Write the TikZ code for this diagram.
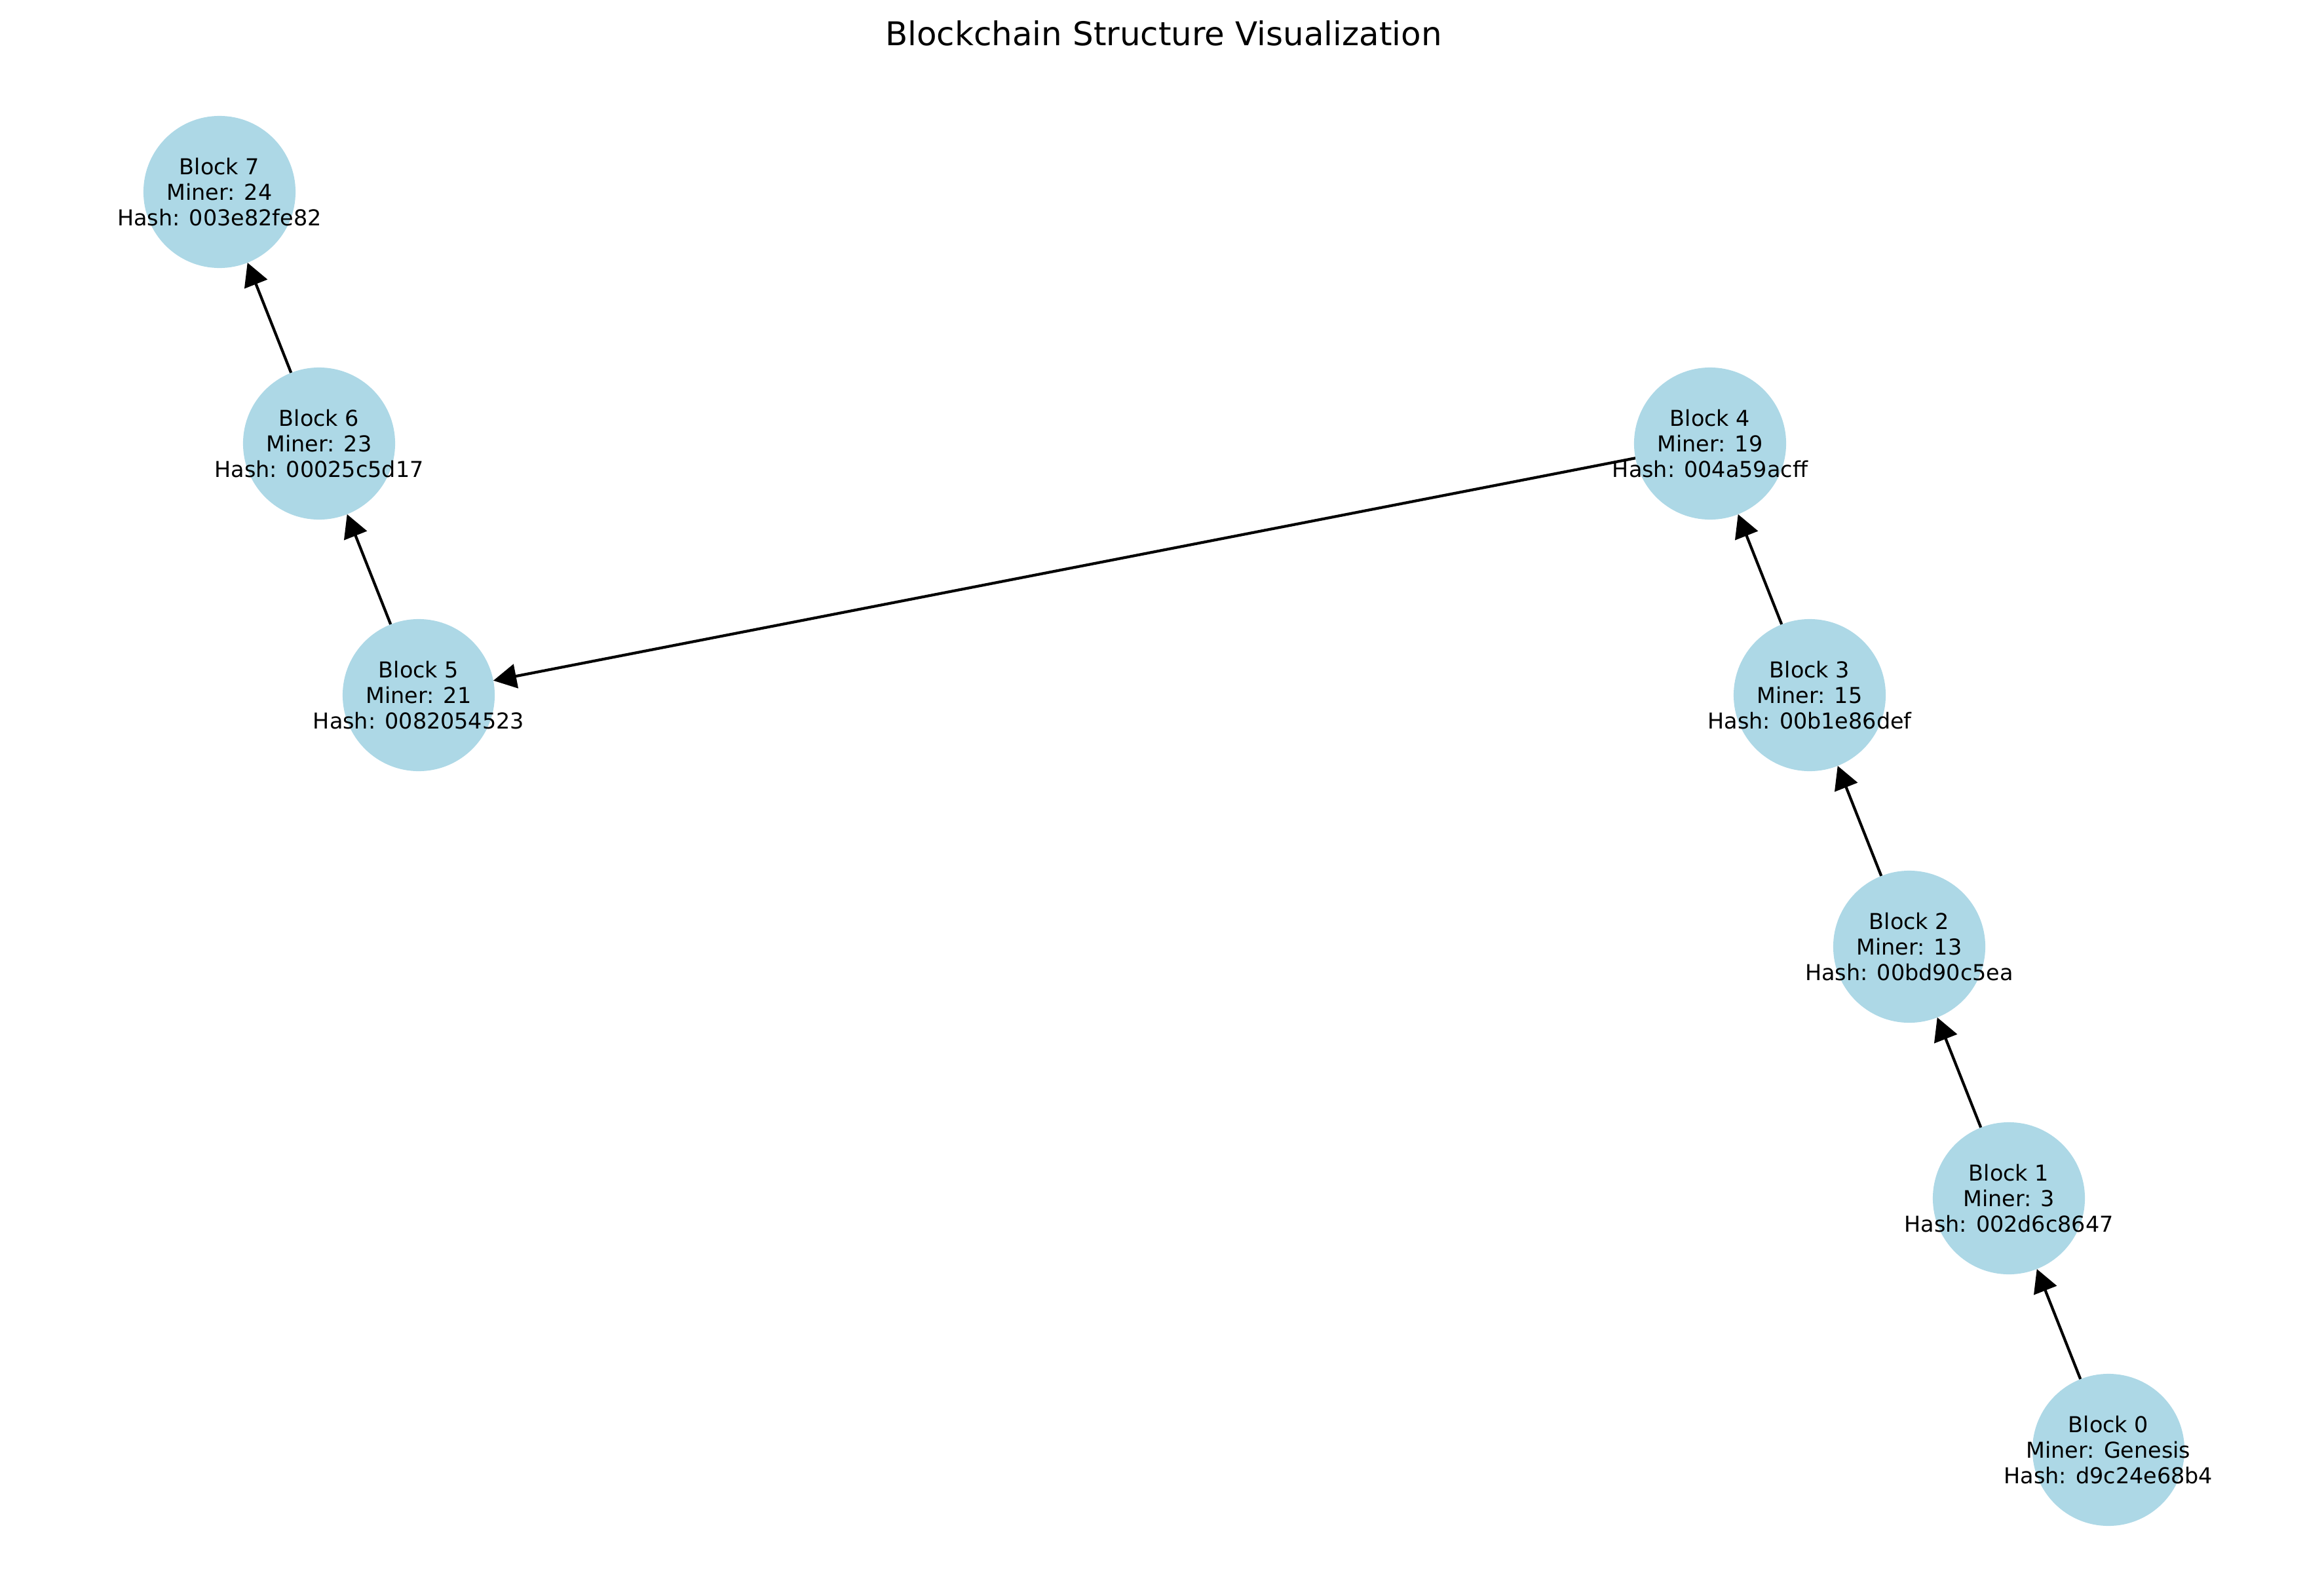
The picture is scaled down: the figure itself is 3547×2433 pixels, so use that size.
\documentclass[tikz,border=0pt]{standalone}
\usepackage{fontspec}
\setmainfont{DejaVu Sans}
\usetikzlibrary{arrows.meta,backgrounds}
\definecolor{blockblue}{RGB}{173,216,230}
\tikzset{
  block/.style={circle,fill=blockblue,minimum size=2.32cm,inner sep=0pt,outer sep=0pt},
  blocktext/.style={align=center,inner sep=0pt,font=\fontsize{9.5}{11.2}\selectfont},
  link/.style={-{Triangle[length=10pt,width=10.5pt]},line width=1.2pt,black}
}

\begin{document}
\begin{tikzpicture}[x=0.01cm,y=-0.01cm]
  \useasboundingbox (0,0) rectangle (3547,2433);
  \node[anchor=base,font=\fontsize{14.2}{17}\selectfont] (title) at (1776,70) {Blockchain Structure Visualization};

  % the chain, genesis at the bottom right
  \node[block] (b0) at (3218,2213) {};
  \node[block] (b1) at (3066,1829) {};
  \node[block] (b2) at (2914,1445) {};
  \node[block] (b3) at (2762,1061) {};
  \node[block] (b4) at (2610,677) {};
  \node[block] (b5) at (639,1061) {};
  \node[block] (b6) at (487,677) {};
  \node[block] (b7) at (335,293) {};

  \node[blocktext] (t0) at (b0) {Block 0\\Miner: Genesis\\Hash: d9c24e68b4};
  \node[blocktext] (t1) at (b1) {Block 1\\Miner: 3\\Hash: 002d6c8647};
  \node[blocktext] (t2) at (b2) {Block 2\\Miner: 13\\Hash: 00bd90c5ea};
  \node[blocktext] (t3) at (b3) {Block 3\\Miner: 15\\Hash: 00b1e86def};
  \node[blocktext] (t4) at (b4) {Block 4\\Miner: 19\\Hash: 004a59acff};
  \node[blocktext] (t5) at (b5) {Block 5\\Miner: 21\\Hash: 0082054523};
  \node[blocktext] (t6) at (b6) {Block 6\\Miner: 23\\Hash: 00025c5d17};
  \node[blocktext] (t7) at (b7) {Block 7\\Miner: 24\\Hash: 003e82fe82};

  \begin{pgfonlayer}{background}
    \draw[link] (b0) -- (b1);
    \draw[link] (b1) -- (b2);
    \draw[link] (b2) -- (b3);
    \draw[link] (b3) -- (b4);
    \draw[link] (b4) -- (b5);
    \draw[link] (b5) -- (b6);
    \draw[link] (b6) -- (b7);
  \end{pgfonlayer}
\end{tikzpicture}
\end{document}
